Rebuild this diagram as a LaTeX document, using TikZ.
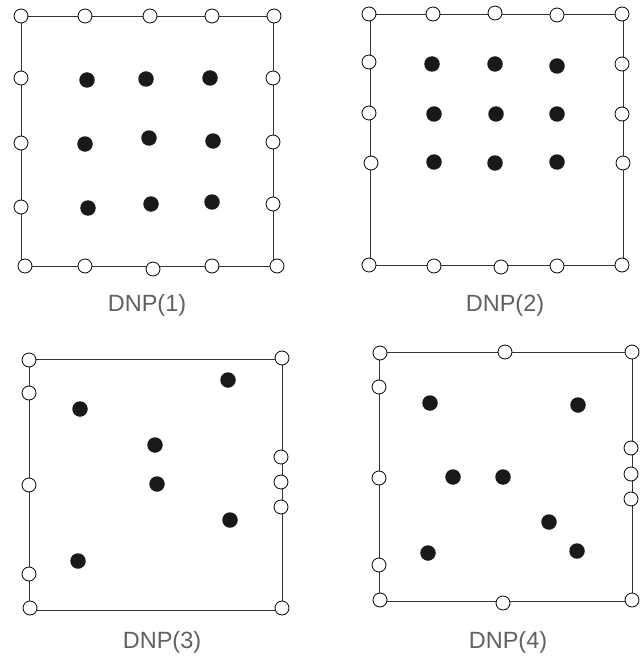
\documentclass[tikz,border=0pt]{standalone}
\usepackage{fontspec}
\setmainfont{Liberation Sans}
\begin{document}
\begin{tikzpicture}[x=1pt, y=-1pt,
    cadre/.style={draw=black!80, line width=0.8pt},
    trou/.style={circle, draw=black, line width=0.8pt, fill=white, inner sep=0pt, minimum size=14pt},
    grain/.style={circle, fill=black!90, inner sep=0pt, minimum size=15.5pt},
    titre/.style={text=black!62, font=\fontsize{23.5}{27}\selectfont}]
    \useasboundingbox (0,0) rectangle (640,658);

    % DNP(1)
    \draw[cadre] (21,16) rectangle (273,266);
    \foreach \p [count=\i] in {(21,16),(85,16),(150,16),(212,16),(274,16),(25,266),(85,266),(153,269),(212,266),(277,266),(21,78),(21,143),(21,207),(273,78),(273,142),(273,204)} { \node[trou] (a\i) at \p {}; }
    \foreach \p [count=\i] in {(87,80),(146,79),(210,78),(85,144),(149,138),(213,141),(88,208),(151,204),(212,202)} { \node[grain] (ga\i) at \p {}; }
    \node[titre] (ta) at (147,305) {DNP(1)};

    % DNP(2)
    \draw[cadre] (370,14) rectangle (623,265);
    \foreach \p [count=\i] in {(369,14),(433,14),(495,13),(557,15),(622,14),(369,265),(434,266),(501,267),(557,266),(622,265),(369,62),(369,113),(371,163),(622,64),(622,114),(623,163)} { \node[trou] (b\i) at \p {}; }
    \foreach \p [count=\i] in {(432,64),(495,64),(557,66),(434,114),(496,114),(557,114),(434,162),(495,163),(557,162)} { \node[grain] (gb\i) at \p {}; }
    \node[titre] (tb) at (505,305) {DNP(2)};

    % DNP(3)
    \draw[cadre] (29,359) rectangle (282,610);
    \foreach \p [count=\i] in {(29,360),(282,358),(29,393),(29,485),(29,574),(30,608),(281,457),(281,482),(281,507),(282,608)} { \node[trou] (c\i) at \p {}; }
    \foreach \p [count=\i] in {(228,380),(80,409),(155,445),(157,484),(230,520),(78,561)} { \node[grain] (gc\i) at \p {}; }
    \node[titre] (tc) at (162,642) {DNP(3)};

    % DNP(4)
    \draw[cadre] (379,352) rectangle (632,601);
    \foreach \p [count=\i] in {(380,353),(505,352),(632,352),(379,387),(379,478),(379,565),(380,600),(503,603),(632,600),(631,448),(631,474),(631,499)} { \node[trou] (d\i) at \p {}; }
    \foreach \p [count=\i] in {(430,403),(578,405),(453,477),(503,477),(549,522),(428,553),(577,551)} { \node[grain] (gd\i) at \p {}; }
    \node[titre] (td) at (508,642) {DNP(4)};
\end{tikzpicture}
\end{document}
